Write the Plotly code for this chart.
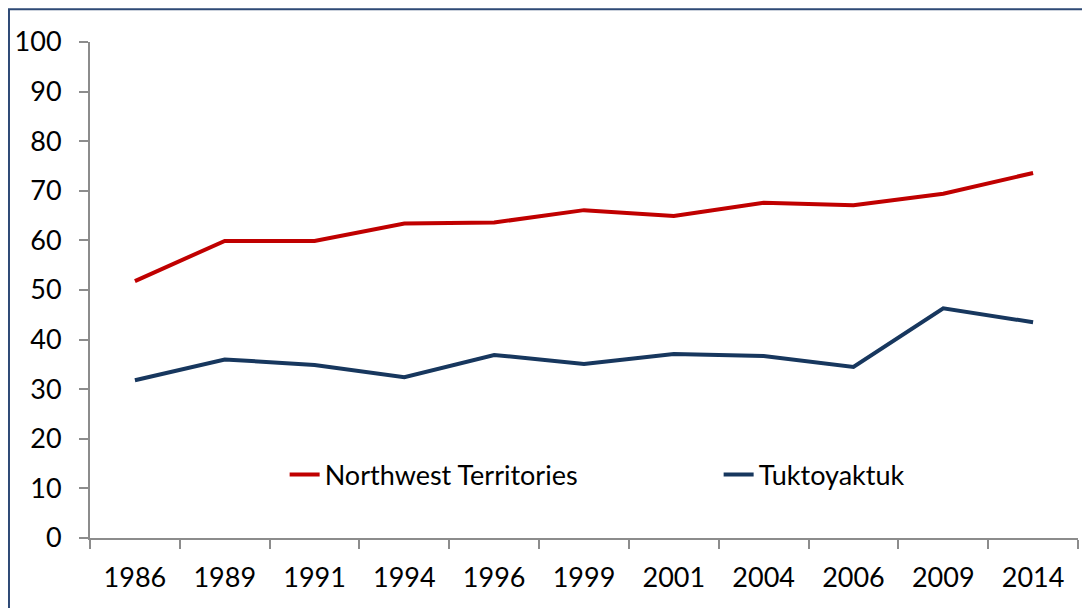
import plotly.graph_objects as go

years = ["1986", "1989", "1991", "1994", "1996", "1999", "2001", "2004", "2006", "2009", "2014"]
nwt = [51.8, 59.9, 59.9, 63.4, 63.6, 66.1, 64.9, 67.6, 67.1, 69.4, 73.6]
tuk = [31.8, 36.0, 34.9, 32.4, 36.9, 35.1, 37.1, 36.7, 34.5, 46.3, 43.5]
yticks = [0, 10, 20, 30, 40, 50, 60, 70, 80, 90, 100]

FONT = "Lato, Noto Sans, sans-serif"
FS = 27

fig = go.Figure()
fig.add_trace(go.Scatter(x=years, y=nwt, mode="lines", name="Northwest Territories",
                         line=dict(color="#C00000", width=4)))
fig.add_trace(go.Scatter(x=years, y=tuk, mode="lines", name="Tuktoyaktuk",
                         line=dict(color="#17375E", width=4)))

fig.update_layout(
    width=1082, height=600,
    margin=dict(l=82, r=12, t=34, b=70, autoexpand=False),
    paper_bgcolor="white", plot_bgcolor="white",
    font=dict(family=FONT, size=FS, color="#000000"),
    showlegend=True,
    legend=dict(orientation="h", x=0.197, y=0.127, xanchor="left", yanchor="middle",
                bgcolor="rgba(0,0,0,0)", font=dict(size=FS),
                entrywidth=389, entrywidthmode="pixels"),
    xaxis=dict(type="category", range=[-0.5, 10.5], showgrid=False, showline=True,
               linecolor="#8C8C8C", linewidth=2,
               ticks="outside", tickson="boundaries", ticklen=9, tickcolor="#8C8C8C", tickwidth=2,
               tickfont=dict(size=FS), fixedrange=True, ticklabelstandoff=15, automargin=False),
    yaxis=dict(range=[0, 100], tickvals=yticks, showgrid=False, showline=True,
               linecolor="#8C8C8C", linewidth=2, ticks="outside", ticklen=9,
               tickcolor="#8C8C8C", tickwidth=2, tickfont=dict(size=FS), zeroline=False,
               ticklabelstandoff=12, automargin=False),
    shapes=[dict(type="rect", xref="paper", yref="paper", x0=-0.082, x1=1.03, y0=-0.3, y1=1.066,
                 line=dict(color="#2E4A76", width=2), fillcolor="rgba(0,0,0,0)", layer="below")],
)

fig.write_html("out.html")
